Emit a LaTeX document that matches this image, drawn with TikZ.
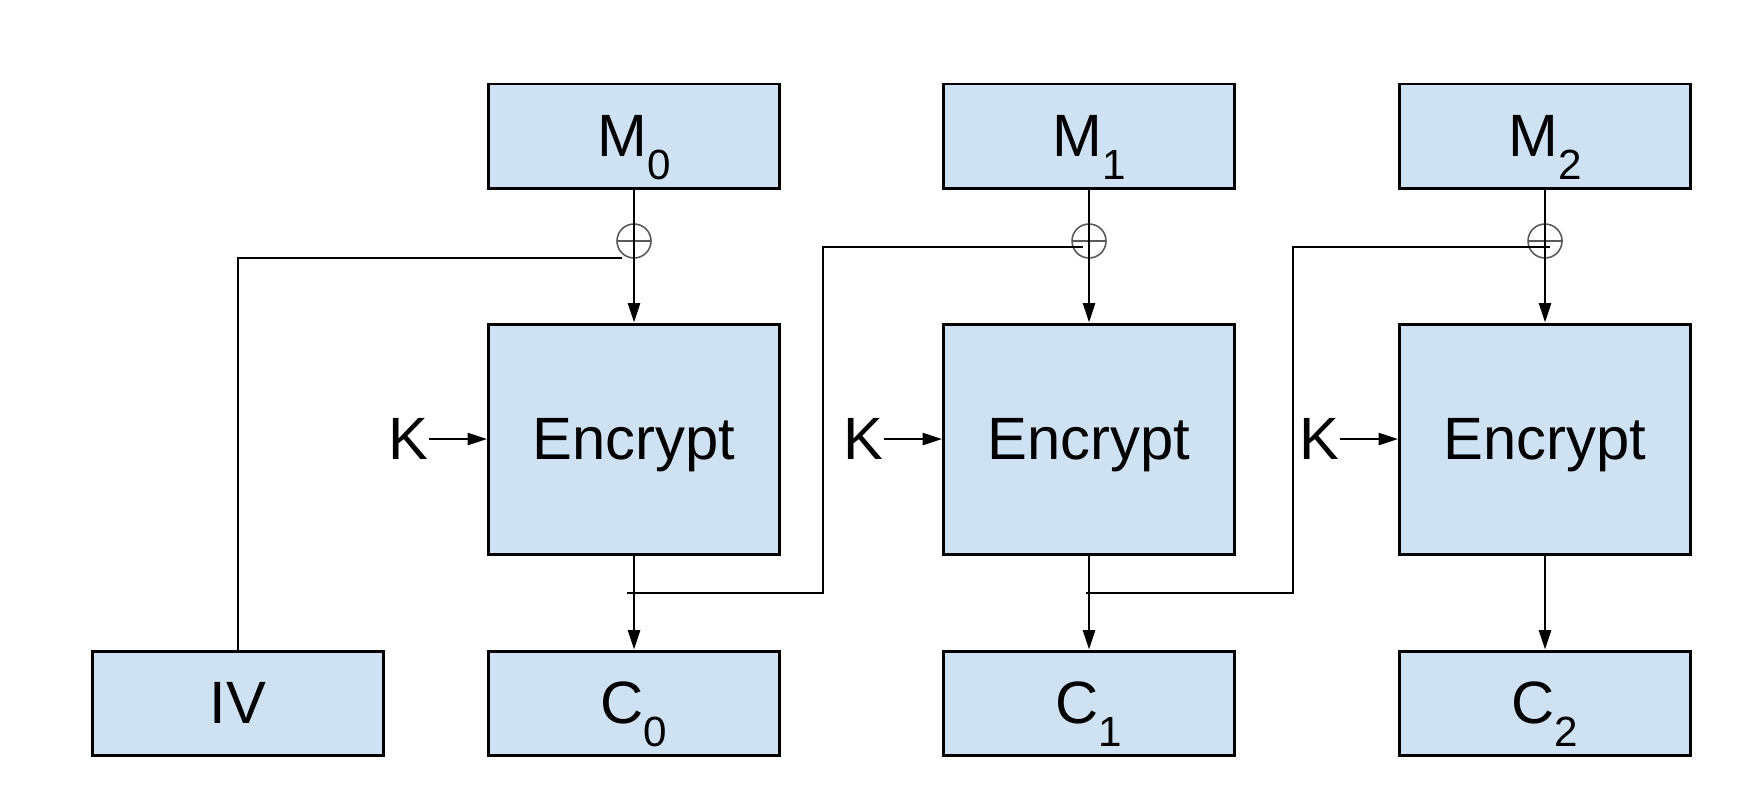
\documentclass[tikz,border=0pt]{standalone}
\usepackage{fontspec}
\setmainfont{Liberation Sans}
\usetikzlibrary{arrows.meta}
\usetikzlibrary{positioning}
\definecolor{boxblue}{HTML}{CFE2F3}
\tikzset{block/.style={draw=black, line width=0.85pt, fill=boxblue,
    minimum width=2.91cm, minimum height=1.04cm, inner sep=0pt,
    text depth=0pt, font=\fontsize{17}{19}\selectfont}}
\tikzset{encblock/.style={block, minimum height=2.30cm}}
\tikzset{xorsym/.style={circle, draw=black!65, line width=0.45pt,
    minimum size=0.34cm, inner sep=0pt,
    path picture={\draw[black!65, line width=0.45pt]
        (path picture bounding box.west) -- (path picture bounding box.east);}}}
\tikzset{keylbl/.style={inner sep=0pt, text depth=0pt, font=\fontsize{17}{19}\selectfont}}
\tikzset{wire/.style={line width=0.7pt}}
\tikzset{flow/.style={wire, -{Triangle[length=5.5pt, width=3.4pt]}}}
\newcommand{\blocksub}[1]{\raisebox{-6.5pt}[0pt][0pt]{\fontsize{12}{12}\selectfont #1}}

\begin{document}
\begin{tikzpicture}
                \useasboundingbox (0,0) rectangle (17.42,8.10);

                \node[block] (M0) at (6.34,6.74) {M\blocksub{0}};
                \node[block] (M1) at (10.89,6.74) {M\blocksub{1}};
                \node[block] (M2) at (15.45,6.74) {M\blocksub{2}};
                \node[encblock] (E0) at (6.34,3.71) {Encrypt};
                \node[encblock] (E1) at (10.89,3.71) {Encrypt};
                \node[encblock] (E2) at (15.45,3.71) {Encrypt};
                \node[block] (IV) at (2.38,1.07) {IV};
                \node[block] (C0) at (6.34,1.07) {C\blocksub{0}};
                \node[block] (C1) at (10.89,1.07) {C\blocksub{1}};
                \node[block] (C2) at (15.45,1.07) {C\blocksub{2}};
                \node[xorsym] (X0) at (6.34,5.69) {};
                \node[xorsym] (X1) at (10.89,5.69) {};
                \node[xorsym] (X2) at (15.45,5.69) {};
                \node[keylbl, left=0.58cm of E0] (K0) {K};
                \node[keylbl, left=0.58cm of E1] (K1) {K};
                \node[keylbl, left=0.58cm of E2] (K2) {K};

                % chaining points
                \coordinate (F0) at (6.22,5.52);
                \coordinate (J0) at (6.27,2.17);
                \coordinate (R1) at (8.23,5.63);
                \coordinate (F1) at (10.83,5.63);
                \coordinate (J1) at (10.86,2.17);
                \coordinate (R2) at (12.93,5.63);
                \coordinate (F2) at (15.50,5.63);

                \draw[flow] (M0) -- (E0);
                \draw[flow] (M1) -- (E1);
                \draw[flow] (M2) -- (E2);
                \draw[flow] (E0) -- (C0);
                \draw[flow] (E1) -- (C1);
                \draw[flow] (E2) -- (C2);
                \draw[flow] (K0) -- (E0);
                \draw[flow] (K1) -- (E1);
                \draw[flow] (K2) -- (E2);
                \draw[wire] (IV) |- (F0);
                \draw[wire] (J0) -| (R1) -- (F1);
                \draw[wire] (J1) -| (R2) -- (F2);

\end{tikzpicture}
\end{document}
